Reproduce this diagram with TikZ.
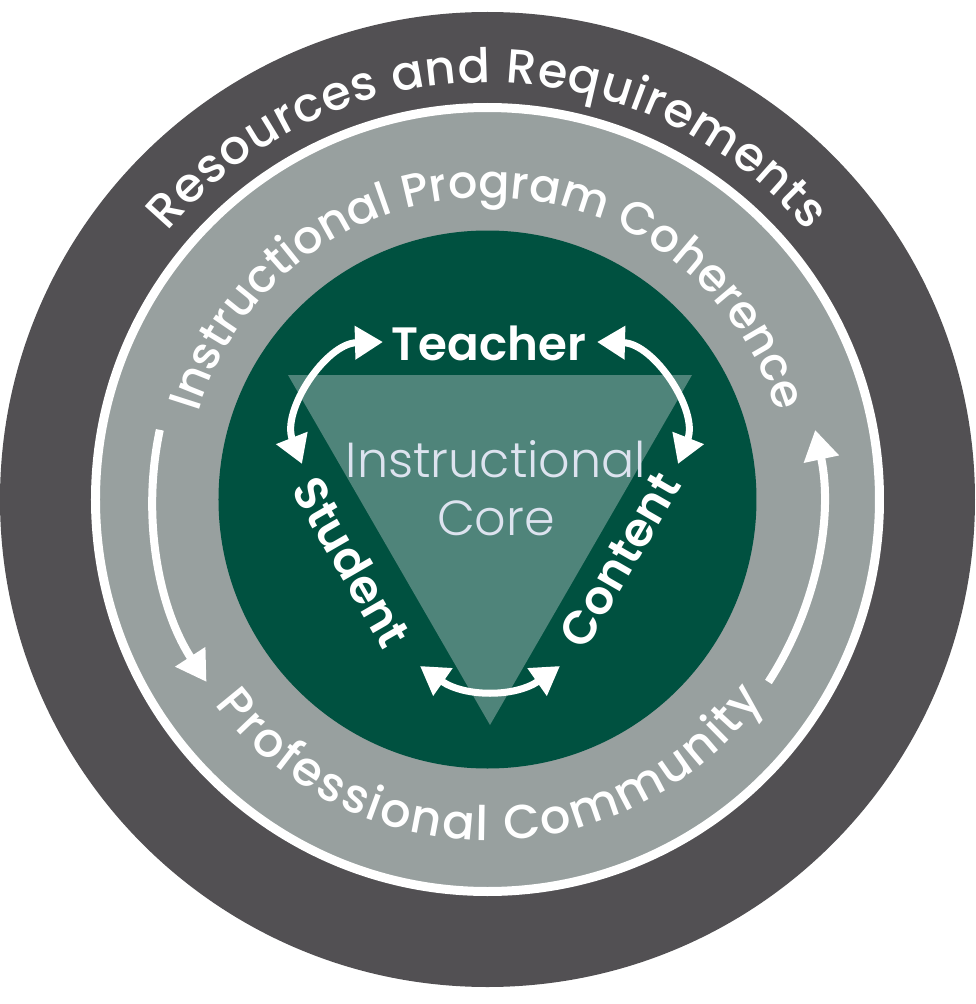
\documentclass[tikz,border=0pt]{standalone}
\usepackage{fontspec}
\setmainfont{Poppins}
\newfontfamily\ringface{Poppins Medium}
\newfontfamily\labelfont{Poppins SemiBold}
\newfontfamily\corefont{Poppins Light}
\usetikzlibrary{arrows.meta}
\usetikzlibrary{decorations.text}
\definecolor{ringdark}{RGB}{82,80,83}
\definecolor{ringlight}{RGB}{152,160,159}
\definecolor{coregreen}{RGB}{0,81,64}
\definecolor{coretri}{RGB}{79,132,122}
\definecolor{coretext}{RGB}{221,227,239}
\newcommand{\ringfont}{\ringface\fontsize{13.6}{16}\selectfont}
\newcommand{\ringfontsm}{\ringface\fontsize{13.1}{16}\selectfont}

\begin{document}
\begin{tikzpicture}[
    lbl/.style={text=white, font=\labelfont\fontsize{13.3}{15}\selectfont, inner sep=0pt},
    cycarrow/.style={color=white, line width=0.08cm, -{Triangle[length=0.30cm, width=0.34cm]}},
    coreloop/.style={color=white, line width=0.07cm, {Triangle[length=0.28cm, width=0.32cm]}-{Triangle[length=0.28cm, width=0.32cm]}},
    ringtext/.style={decorate, decoration={text along path, text color=white, text={#1}}}
  ]
    \path[use as bounding box] (-4.875, -5.045) rectangle (4.885, 4.995);

    \fill[ringdark] (0, 0) circle (4.875);
    \filldraw[fill=ringlight, draw=white, line width=0.09cm] (0, 0) circle (3.92);
    \fill[coregreen] (0, 0) circle (2.69);

    \coordinate (triL) at (-1.995, 1.245);
    \coordinate (triR) at (2.045, 1.245);
    \coordinate (triB) at (0.025, -2.255);
    \fill[coretri] (triL) -- (triR) -- (triB) -- cycle;

    \path[ringtext={|\ringfont|Resources and Requirements}, decoration={text align=fit to path}]
      (140:4.17) arc[start angle=140, end angle=40, radius=4.17];
    \path[ringtext={|\ringfontsm|Instructional Program Coherence}, decoration={text align=center}]
      (175:3.02) arc[start angle=175, end angle=5, radius=3.02];
    \path[ringtext={|\ringfont|Professional Community}, decoration={text align=fit to path}]
      (217:3.41) arc[start angle=217, end angle=324, radius=3.41];

    \foreach \s/\e [count=\i] in {168/213, -33/12} {
      \coordinate (cyc\i) at (\s:3.35);
      \draw[cycarrow] (cyc\i) arc[start angle=\s, end angle=\e, radius=3.35];
    }

    \node[lbl, anchor=base] (teacher) at (0.015, 1.395) {Teacher};
    \node[lbl, rotate=-60] (student) at (-1.355, -0.625) {Student};
    \node[lbl, rotate=60] (content) at (1.325, -0.605) {Content};
    \node[text=coretext, font=\corefont\fontsize{14}{16.5}\selectfont, align=center, inner sep=0pt] (core) at (0.085, 0.115) {Instructional\\Core};

    \coordinate (tl) at (-1.045, 1.575);
    \coordinate (tr) at (1.095, 1.575);
    \coordinate (st) at (-1.855, 0.355);
    \coordinate (ct) at (1.905, 0.355);
    \coordinate (bl) at (-0.675, -1.665);
    \coordinate (br) at (0.725, -1.665);

    \foreach \a/\b/\bnd in {tl/st/55, ct/tr/55, bl/br/35} {
      \draw[coreloop] (\a) to[bend right=\bnd] (\b);
    }
\end{tikzpicture}
\end{document}
